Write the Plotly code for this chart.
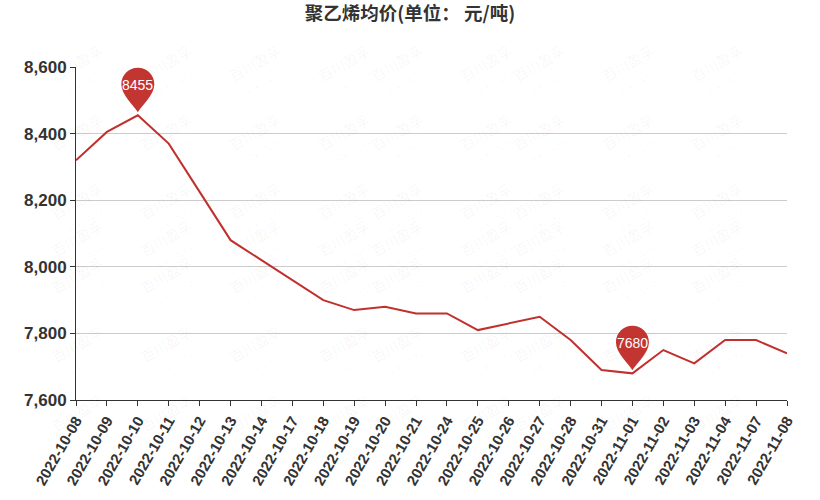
import plotly.graph_objects as go

dates = ["2022-10-08", "2022-10-09", "2022-10-10", "2022-10-11", "2022-10-12",
         "2022-10-13", "2022-10-14", "2022-10-17", "2022-10-18", "2022-10-19",
         "2022-10-20", "2022-10-21", "2022-10-24", "2022-10-25", "2022-10-26",
         "2022-10-27", "2022-10-28", "2022-10-31", "2022-11-01", "2022-11-02",
         "2022-11-03", "2022-11-04", "2022-11-07", "2022-11-08"]
prices = [8320, 8405, 8455, 8370, 8225, 8080, 8020, 7960, 7900, 7870,
          7880, 7860, 7860, 7810, 7830, 7850, 7780, 7690, 7680, 7750,
          7710, 7780, 7780, 7740]

title_text = "聚乙烯均价(单位： 元/吨)"
y_ticks = [7600, 7800, 8000, 8200, 8400, 8600]

RED = "#c23531"
LINE = "#c0302d"

fig = go.Figure()
fig.add_trace(go.Scatter(
    x=dates, y=prices, mode="lines",
    line=dict(color=LINE, width=2),
    hoverinfo="x+y", showlegend=False,
))

# pin markers for max / min
i_max = max(range(len(prices)), key=lambda i: prices[i])
i_min = min(range(len(prices)), key=lambda i: prices[i])
pin_path = ("M 0 3 C -4 10 -16.5 20 -16.5 31 C -16.5 40.1 -9.1 47.5 0 47.5 "
            "C 9.1 47.5 16.5 40.1 16.5 31 C 16.5 20 4 10 0 3 Z")
for i in (i_max, i_min):
    fig.add_shape(type="path", xref="x", yref="y",
                  xsizemode="pixel", ysizemode="pixel",
                  xanchor=dates[i], yanchor=prices[i],
                  path=pin_path, fillcolor=RED, line=dict(width=0), layer="above")
    fig.add_annotation(x=dates[i], y=prices[i], text=str(prices[i]),
                       showarrow=False, yshift=30,
                       font=dict(color="white", size=14, family="Liberation Sans, Arial"))

# watermark grid
L, T, W, H = 76, 67, 711, 333
for cx in range(45, 820, 89):
    for cy in range(38, 500, 69):
        fig.add_annotation(
            xref="paper", yref="paper",
            x=(cx - L) / W, y=(T + H - cy) / H,
            text="百川盈孚<br><span style='font-size:8px'>B A I I N F O</span>",
            showarrow=False, textangle=-30,
            font=dict(size=14, color="rgba(0,0,0,0.045)", family="Noto Sans CJK SC"),
        )

fig.update_layout(
    width=820, height=500,
    margin=dict(l=L, r=820 - L - W, t=T, b=500 - T - H, autoexpand=False),
    paper_bgcolor="white", plot_bgcolor="white",
    title=dict(text=title_text, x=0.5, xanchor="center", y=1 - 14 / 500, yanchor="middle",
               font=dict(size=18.5, color="#333333", family="Noto Sans CJK SC", weight="bold")),
    xaxis=dict(
        type="category", range=[0, len(dates) - 1], automargin=False,
        showgrid=False, showline=True, linecolor="#333333", linewidth=1,
        ticks="outside", ticklen=5, tickcolor="#333333",
        tickangle=-60,
        tickfont=dict(size=15, color="#333333", family="Liberation Sans, Arial", weight="bold"),
        zeroline=False,
    ),
    yaxis=dict(
        range=[7600, 8600], tickvals=y_ticks, tickformat=",d", automargin=False,
        showgrid=True, gridcolor="#cccccc", gridwidth=1,
        showline=True, linecolor="#333333", linewidth=1,
        ticks="outside", ticklen=5, tickcolor="#333333",
        tickfont=dict(size=17, color="#333333", family="Liberation Sans, Arial", weight="bold"),
        zeroline=False,
    ),
)

fig.write_html("out.html", config={"displayModeBar": False},
               post_script="document.body.style.margin='0';")
